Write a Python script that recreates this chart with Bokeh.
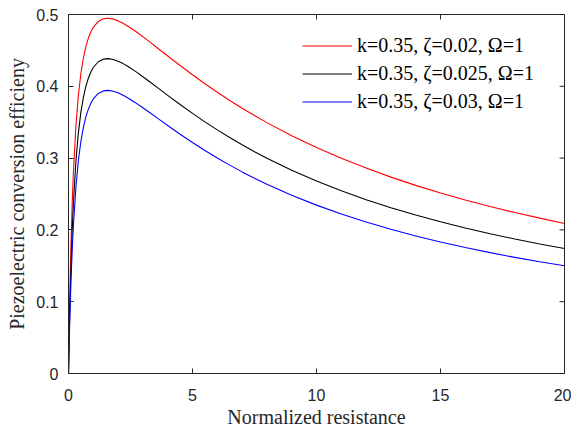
import math
from bokeh.plotting import figure
from bokeh.models import FixedTicker, Legend, LegendItem, Range1d
from bokeh.embed import file_html
from bokeh.resources import INLINE

# Normalized resistance (x) samples
x_vals = [0, 0.02, 0.05, 0.1, 0.15, 0.2, 0.3, 0.4, 0.5, 0.6, 0.7, 0.8, 0.9, 1.0,
          1.2, 1.4, 1.6, 1.8, 2.0, 2.2, 2.4, 2.7, 3.0, 3.3, 3.6, 4.0, 4.5, 5, 5.5,
          6, 6.5, 7, 7.5, 8, 9, 10, 11, 12, 13, 14, 15, 16, 17, 18, 19, 20]

# k=0.35, zeta=0.02, Omega=1 (red)
eta_red = [0, 0.0464, 0.1049, 0.1807, 0.2378, 0.2820, 0.3455, 0.3880, 0.4179, 0.4394,
           0.4552, 0.4670, 0.4757, 0.4822, 0.4903, 0.4940, 0.4948, 0.4936, 0.4911,
           0.4877, 0.4836, 0.4766, 0.4691, 0.4611, 0.4530, 0.4422, 0.4289, 0.4160,
           0.4036, 0.3917, 0.3803, 0.3695, 0.3592, 0.3494, 0.3312, 0.3148, 0.2998,
           0.2861, 0.2735, 0.2620, 0.2514, 0.2417, 0.2326, 0.2242, 0.2164, 0.2090]

# k=0.35, zeta=0.025, Omega=1 (black)
eta_black = [0, 0.0374, 0.0855, 0.1496, 0.1992, 0.2385, 0.2962, 0.3358, 0.3641, 0.3847,
             0.3999, 0.4113, 0.4199, 0.4262, 0.4342, 0.4378, 0.4386, 0.4374, 0.4350,
             0.4316, 0.4276, 0.4208, 0.4133, 0.4056, 0.3978, 0.3874, 0.3746, 0.3623,
             0.3505, 0.3393, 0.3286, 0.3185, 0.3089, 0.2999, 0.2831, 0.2681, 0.2545,
             0.2421, 0.2309, 0.2207, 0.2113, 0.2026, 0.1946, 0.1873, 0.1804, 0.1741]

# k=0.35, zeta=0.03, Omega=1 (blue)
eta_blue = [0, 0.0315, 0.0726, 0.1284, 0.1723, 0.2076, 0.2602, 0.2970, 0.3234, 0.3428,
            0.3573, 0.3682, 0.3764, 0.3824, 0.3901, 0.3936, 0.3943, 0.3932, 0.3909,
            0.3876, 0.3838, 0.3772, 0.3701, 0.3628, 0.3553, 0.3454, 0.3333, 0.3217,
            0.3106, 0.3001, 0.2902, 0.2808, 0.2720, 0.2636, 0.2482, 0.2345, 0.2221,
            0.2109, 0.2008, 0.1915, 0.1831, 0.1754, 0.1683, 0.1617, 0.1556, 0.1500]

series_labels = ["k=0.35, \u03b6=0.02, \u03a9=1",
                 "k=0.35, \u03b6=0.025, \u03a9=1",
                 "k=0.35, \u03b6=0.03, \u03a9=1"]
series_colors = ["#ff0000", "#000000", "#0000ff"]

x_ticks = [0, 5, 10, 15, 20]
x_tick_labels = ["0", "5", "10", "15", "20"]
y_ticks = [0, 0.1, 0.2, 0.3, 0.4, 0.5]
y_tick_labels = ["0", "0.1", "0.2", "0.3", "0.4", "0.5"]

AX = "#262626"
SANS = "Liberation Sans"
SERIF = "Liberation Serif"

p = figure(width=571, height=430, output_backend="svg", toolbar_location=None,
           x_range=Range1d(x_ticks[0], x_ticks[-1]), y_range=Range1d(y_ticks[0], y_ticks[-1]),
           min_border_left=68, min_border_right=7, min_border_top=14,
           min_border_bottom=57)
p.grid.visible = False
p.outline_line_color = AX
p.outline_line_width = 1
p.background_fill_color = "white"
p.border_fill_color = "white"

renderers = []
for ys, c in zip([eta_red, eta_black, eta_blue], series_colors):
    r = p.line(x_vals, ys, line_color=c, line_width=1.1)
    renderers.append(r)

# inward ticks on the top and right edges of the box (MATLAB style)
p.ray(x=x_ticks, y=[y_ticks[-1]] * len(x_ticks), length=5, length_units="screen",
      angle=-math.pi / 2, line_color=AX, line_width=1)
p.ray(x=[x_ticks[-1]] * len(y_ticks), y=y_ticks, length=5, length_units="screen",
      angle=math.pi, line_color=AX, line_width=1)


def style_axis(ax, ticks, labels):
    ax.ticker = FixedTicker(ticks=ticks)
    ax.major_label_overrides = {t: l for t, l in zip(ticks, labels)}
    ax.axis_line_color = AX
    ax.axis_line_width = 1
    ax.major_tick_line_color = AX
    ax.major_tick_in = 5
    ax.major_tick_out = 0
    ax.minor_tick_line_color = None
    ax.major_label_text_font = SANS
    ax.major_label_text_color = AX
    ax.major_label_text_font_size = "16px"
    ax.axis_label_text_font = SERIF
    ax.axis_label_text_font_size = "20px"
    ax.axis_label_text_font_style = "normal"
    ax.axis_label_text_color = AX


xa = p.xaxis[0]
style_axis(xa, x_ticks, x_tick_labels)
xa.major_label_standoff = 15
xa.axis_label = "Normalized resistance"
xa.axis_label_standoff = 2

ya = p.yaxis[0]
style_axis(ya, y_ticks, y_tick_labels)
ya.major_label_standoff = 10
ya.axis_label = "Piezoelectric conversion efficieny"
ya.axis_label_standoff = 5

legend = Legend(items=[LegendItem(label=l, renderers=[r]) for l, r in zip(series_labels, renderers)],
                location=(234, 260))
legend.label_text_font = SERIF
legend.label_text_font_size = "20px"
legend.label_text_color = "#000000"
legend.glyph_width = 50
legend.glyph_height = 23
legend.label_height = 23
legend.label_standoff = 5
legend.spacing = 5
legend.padding = 10
legend.margin = 0
legend.border_line_color = None
legend.background_fill_color = None
p.add_layout(legend, "center")

open("out.html", "w").write(file_html(p, INLINE))
